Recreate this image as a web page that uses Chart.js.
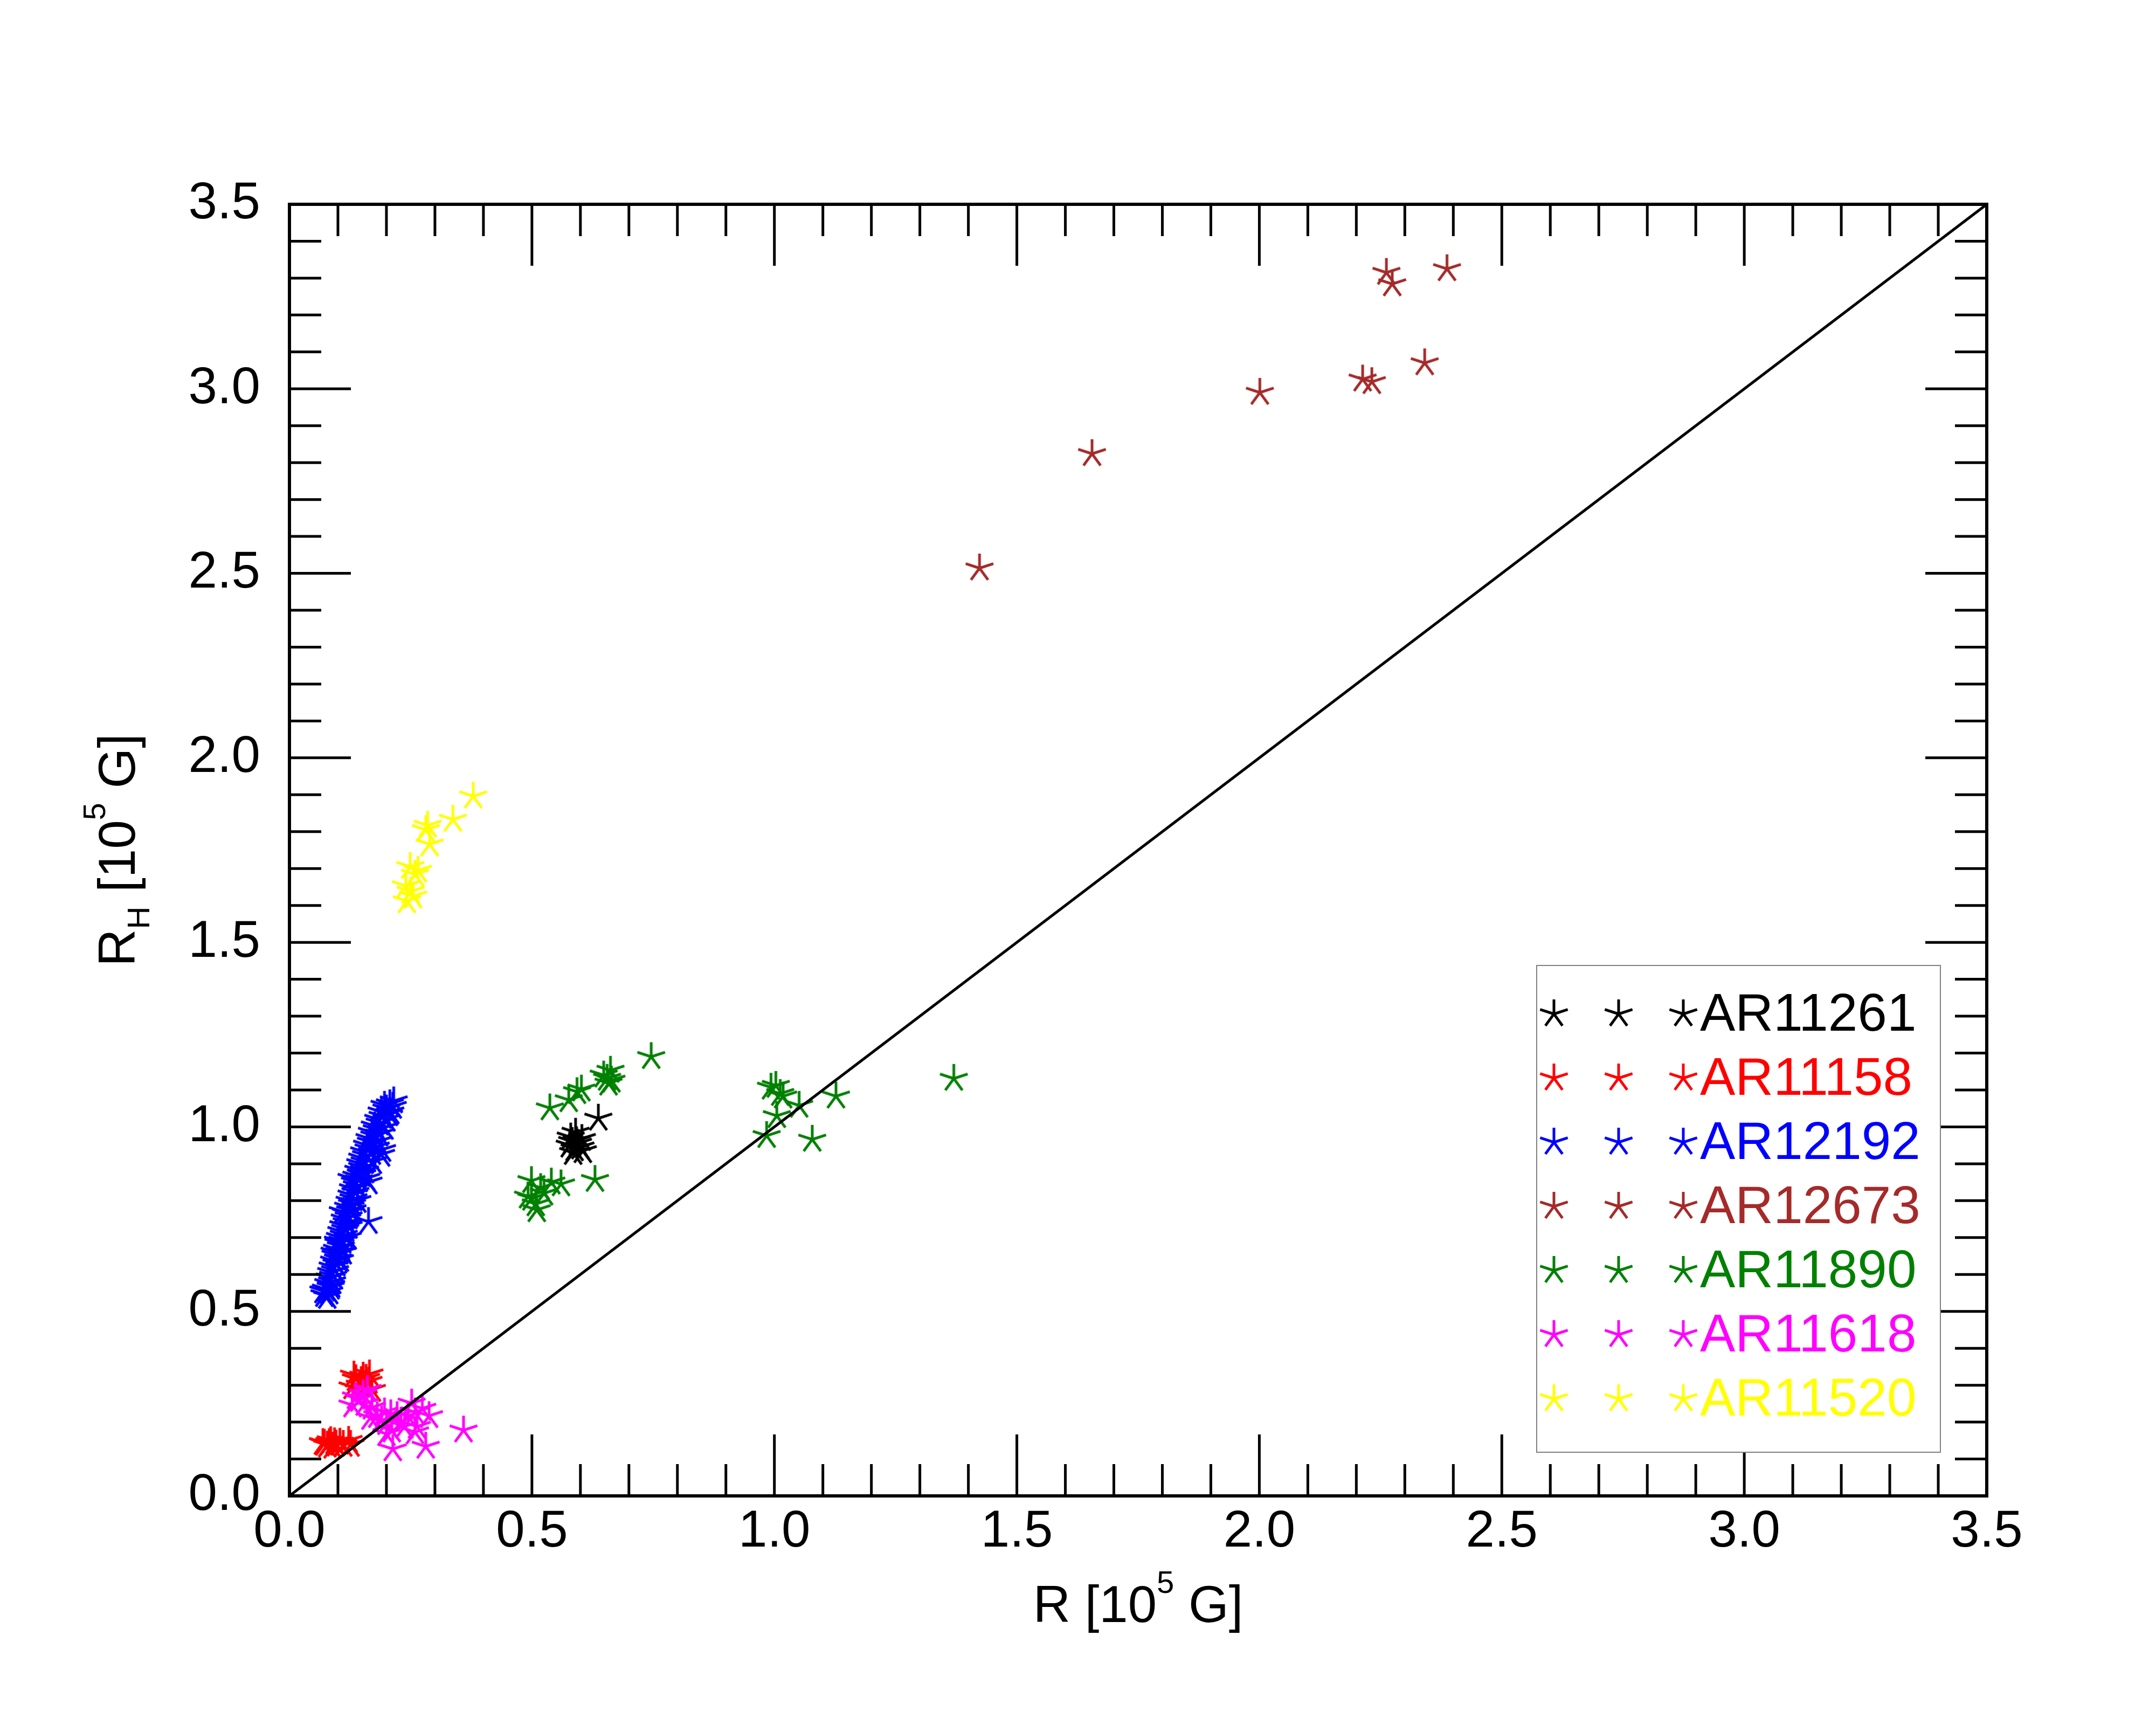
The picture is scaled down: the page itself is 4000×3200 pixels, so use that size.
<!DOCTYPE html>
<html>
<head>
<meta charset="utf-8">
<script src="https://cdn.jsdelivr.net/npm/chart.js@4.4.1/dist/chart.umd.min.js"></script>
<style>
  html, body { margin: 0; padding: 0; background: #fff; }
</style>
</head>
<body>
<canvas id="chart" width="4000" height="3200"></canvas>
<script>
const regions = ["AR11261", "AR11158", "AR12192", "AR12673", "AR11890", "AR11618", "AR11520"];
const colors = ["#000000", "#ff0000", "#0000ff", "#a52a2a", "#008000", "#ff00ff", "#ffff00"];

// [R, R_H] in units of 1e5 G
const pts11261 = [
  [0.637, 1.023], [0.590, 0.985], [0.603, 0.968], [0.583, 0.960], [0.595, 0.955], [0.578, 0.950],
  [0.600, 0.945], [0.588, 0.940], [0.605, 0.935], [0.585, 0.930], [0.592, 0.962], [0.580, 0.972]
];
const pts11158 = [
  [0.072, 0.142], [0.082, 0.144], [0.093, 0.146], [0.104, 0.145], [0.122, 0.150], [0.089, 0.134],
  [0.078, 0.137], [0.111, 0.139], [0.096, 0.140], [0.085, 0.149], [0.069, 0.144], [0.126, 0.139],
  [0.137, 0.317], [0.152, 0.324], [0.165, 0.330], [0.148, 0.312], [0.133, 0.327], [0.163, 0.310],
  [0.170, 0.288], [0.130, 0.295], [0.145, 0.300], [0.158, 0.318]
];
const pts12192 = [
  [0.072, 0.545], [0.078, 0.540], [0.082, 0.552], [0.075, 0.560], [0.085, 0.565], [0.080, 0.575],
  [0.088, 0.580], [0.083, 0.590], [0.090, 0.595], [0.086, 0.605], [0.094, 0.610], [0.089, 0.620],
  [0.097, 0.628], [0.092, 0.636], [0.100, 0.642], [0.095, 0.652], [0.103, 0.660], [0.098, 0.668],
  [0.106, 0.675], [0.101, 0.684], [0.109, 0.690], [0.104, 0.700], [0.112, 0.706], [0.107, 0.716],
  [0.115, 0.722], [0.111, 0.732], [0.118, 0.740], [0.114, 0.750], [0.122, 0.756], [0.117, 0.765],
  [0.125, 0.772], [0.121, 0.782], [0.129, 0.790], [0.124, 0.798], [0.132, 0.805], [0.128, 0.815],
  [0.136, 0.822], [0.131, 0.832], [0.139, 0.840], [0.135, 0.850], [0.143, 0.856], [0.138, 0.866],
  [0.147, 0.872], [0.142, 0.882], [0.150, 0.890], [0.146, 0.900], [0.155, 0.905], [0.150, 0.915],
  [0.158, 0.922], [0.154, 0.932], [0.163, 0.940], [0.160, 0.950], [0.168, 0.958], [0.165, 0.968],
  [0.175, 0.975], [0.170, 0.985], [0.180, 0.992], [0.176, 1.002], [0.186, 1.010], [0.183, 1.020],
  [0.192, 1.028], [0.190, 1.040], [0.200, 1.048], [0.196, 1.058], [0.207, 1.062], [0.213, 1.055],
  [0.205, 1.035], [0.196, 0.998], [0.191, 0.938], [0.172, 0.905], [0.163, 0.743], [0.158, 0.860],
  [0.182, 0.960], [0.189, 0.925], [0.163, 0.850], [0.150, 0.870], [0.128, 0.860], [0.156, 0.880],
  [0.170, 0.930], [0.178, 0.945], [0.185, 0.980], [0.110, 0.770], [0.130, 0.775], [0.120, 0.700],
  [0.100, 0.690], [0.093, 0.660], [0.110, 0.660], [0.104, 0.640], [0.200, 1.020], [0.208, 1.040],
  [0.215, 1.070], [0.140, 0.800], [0.122, 0.730], [0.086, 0.570], [0.070, 0.555]
];
const pts12673 = [
  [1.423, 2.514], [1.655, 2.824], [2.001, 2.990], [2.213, 3.026], [2.232, 3.019],
  [2.341, 3.070], [2.262, 3.315], [2.274, 3.284], [2.387, 3.325]
];
const pts11890 = [
  [0.746, 1.190], [0.662, 1.153], [0.658, 1.118], [0.655, 1.131], [0.664, 1.126], [0.648, 1.140],
  [0.602, 1.102], [0.593, 1.095], [0.576, 1.073], [0.537, 1.051],
  [0.499, 0.854], [0.630, 0.857], [0.540, 0.850], [0.560, 0.845], [0.518, 0.835], [0.499, 0.806],
  [0.508, 0.791], [0.510, 0.775], [0.492, 0.812], [0.525, 0.820],
  [1.003, 1.112], [0.993, 1.107], [1.012, 1.090], [1.018, 1.083], [1.051, 1.058], [1.127, 1.083],
  [1.005, 1.030], [0.984, 0.976], [1.078, 0.966], [1.370, 1.131]
];
const pts11618 = [
  [0.359, 0.178], [0.281, 0.134], [0.213, 0.127], [0.288, 0.217], [0.252, 0.251], [0.144, 0.261],
  [0.161, 0.288], [0.137, 0.268], [0.130, 0.246], [0.152, 0.276], [0.196, 0.227], [0.209, 0.222],
  [0.222, 0.217], [0.181, 0.217], [0.200, 0.198], [0.230, 0.202], [0.244, 0.217], [0.259, 0.227],
  [0.263, 0.188], [0.211, 0.178], [0.237, 0.188], [0.167, 0.212], [0.259, 0.173], [0.200, 0.168],
  [0.274, 0.237], [0.155, 0.250], [0.170, 0.240], [0.190, 0.205]
];
const pts11520 = [
  [0.379, 1.896], [0.337, 1.833], [0.285, 1.817], [0.289, 1.766], [0.281, 1.805], [0.265, 1.695],
  [0.249, 1.705], [0.259, 1.684], [0.240, 1.653], [0.250, 1.638], [0.242, 1.612], [0.255, 1.625]
];
const allPoints = [pts11261, pts11158, pts12192, pts12673, pts11890, pts11618, pts11520];

const axisTicks = [0.0, 0.5, 1.0, 1.5, 2.0, 2.5, 3.0, 3.5];
const diagonal = [0, 3.5];

const FONT = "'Liberation Sans', Arial, Helvetica, sans-serif";

// five-armed IDL style asterisk
function starImage(color) {
  const c = document.createElement("canvas");
  c.width = 64;
  c.height = 64;
  const g = c.getContext("2d");
  g.strokeStyle = color;
  g.lineWidth = 5;
  g.beginPath();
  for (let k = 0; k < 5; k++) {
    const a = -Math.PI / 2 + k * 2 * Math.PI / 5;
    g.moveTo(32, 32);
    g.lineTo(32 + 27 * Math.cos(a), 32 + 27 * Math.sin(a));
  }
  g.stroke();
  return c;
}
const stars = colors.map(starImage);

function drawRich(ctx, parts, cx, baseY) {
  let total = 0;
  parts.forEach(p => {
    ctx.font = p.size + "px " + FONT;
    p.w = ctx.measureText(p.t).width;
    total += p.w;
  });
  let x = cx - total / 2;
  ctx.textAlign = "left";
  ctx.textBaseline = "alphabetic";
  parts.forEach(p => {
    ctx.font = p.size + "px " + FONT;
    ctx.fillText(p.t, x, baseY + p.dy);
    x += p.w;
  });
}

const framePlugin = {
  id: "frame",
  afterDraw(chart) {
    const { ctx, chartArea: a, scales: { x, y } } = chart;
    ctx.save();
    ctx.strokeStyle = "#000";
    ctx.fillStyle = "#000";

    // box and inward ticks on all four sides
    ctx.lineWidth = 6;
    ctx.strokeRect(a.left, a.top, a.right - a.left, a.bottom - a.top);
    ctx.lineWidth = 5;
    ctx.beginPath();
    for (let i = 0; i <= 35; i++) {
      const v = i / 10;
      const len = i % 5 === 0 ? 114 : 59;
      const px = x.getPixelForValue(v);
      const py = y.getPixelForValue(v);
      ctx.moveTo(px, a.bottom); ctx.lineTo(px, a.bottom - len);
      ctx.moveTo(px, a.top); ctx.lineTo(px, a.top + len);
      ctx.moveTo(a.left, py); ctx.lineTo(a.left + len, py);
      ctx.moveTo(a.right, py); ctx.lineTo(a.right - len, py);
    }
    ctx.stroke();

    // axis titles
    drawRich(ctx, [
      { t: "R [10", size: 96, dy: 0 },
      { t: "5", size: 58, dy: -54 },
      { t: " G]", size: 96, dy: 0 }
    ], (a.left + a.right) / 2, 3009);

    ctx.save();
    ctx.translate(250, (a.top + a.bottom) / 2);
    ctx.rotate(-Math.PI / 2);
    drawRich(ctx, [
      { t: "R", size: 96, dy: 0 },
      { t: "H", size: 58, dy: 27 },
      { t: " [10", size: 96, dy: 0 },
      { t: "5", size: 58, dy: -55 },
      { t: " G]", size: 96, dy: 0 }
    ], 0, 0);
    ctx.restore();

    // legend
    const lx = 2851, ly = 1791, lw = 749, lh = 903;
    ctx.fillStyle = "#fff";
    ctx.fillRect(lx, ly, lw, lh);
    ctx.strokeStyle = "#808080";
    ctx.lineWidth = 2;
    ctx.strokeRect(lx, ly, lw, lh);
    ctx.font = "98px " + FONT;
    ctx.textAlign = "left";
    ctx.textBaseline = "middle";
    regions.forEach((name, i) => {
      const cy = 1881 + i * 119;
      [2883, 3003, 3123].forEach(sx => ctx.drawImage(stars[i], sx - 32, cy - 32));
      ctx.fillStyle = colors[i];
      ctx.fillText(name, 3154, cy + 4);
    });
    ctx.restore();
  }
};

const datasets = regions.map((name, i) => ({
  type: "scatter",
  label: name,
  data: allPoints[i].map(p => ({ x: p[0], y: p[1] })),
  pointStyle: stars[i],
  pointRadius: 27,
  showLine: false,
  order: 10 - i
}));
datasets.push({
  type: "line",
  label: "y = x",
  data: diagonal.map(v => ({ x: v, y: v })),
  borderColor: "#000",
  borderWidth: 5,
  pointRadius: 0,
  fill: false,
  order: 0
});

const tickFont = { family: FONT, size: 96 };

new Chart(document.getElementById("chart"), {
  type: "scatter",
  data: { datasets },
  options: {
    responsive: false,
    animation: false,
    devicePixelRatio: 1,
    layout: { padding: { left: 0, top: 379, right: 314, bottom: 0 } },
    plugins: { legend: { display: false }, tooltip: { enabled: false } },
    scales: {
      x: {
        type: "linear",
        min: 0,
        max: 3.5,
        afterFit(s) { s.height = 425; },
        afterBuildTicks(s) { s.ticks = axisTicks.map(v => ({ value: v })); },
        ticks: { callback: v => Number(v).toFixed(1), font: tickFont, color: "#000", padding: 10, maxRotation: 0, autoSkip: false },
        grid: { display: false, drawTicks: false },
        border: { display: false }
      },
      y: {
        type: "linear",
        min: 0,
        max: 3.5,
        afterFit(s) { s.width = 537; },
        afterBuildTicks(s) { s.ticks = axisTicks.map(v => ({ value: v })); },
        ticks: { callback: v => Number(v).toFixed(1), font: tickFont, color: "#000", padding: 54, autoSkip: false },
        grid: { display: false, drawTicks: false },
        border: { display: false }
      }
    }
  },
  plugins: [framePlugin]
});
</script>
</body>
</html>
